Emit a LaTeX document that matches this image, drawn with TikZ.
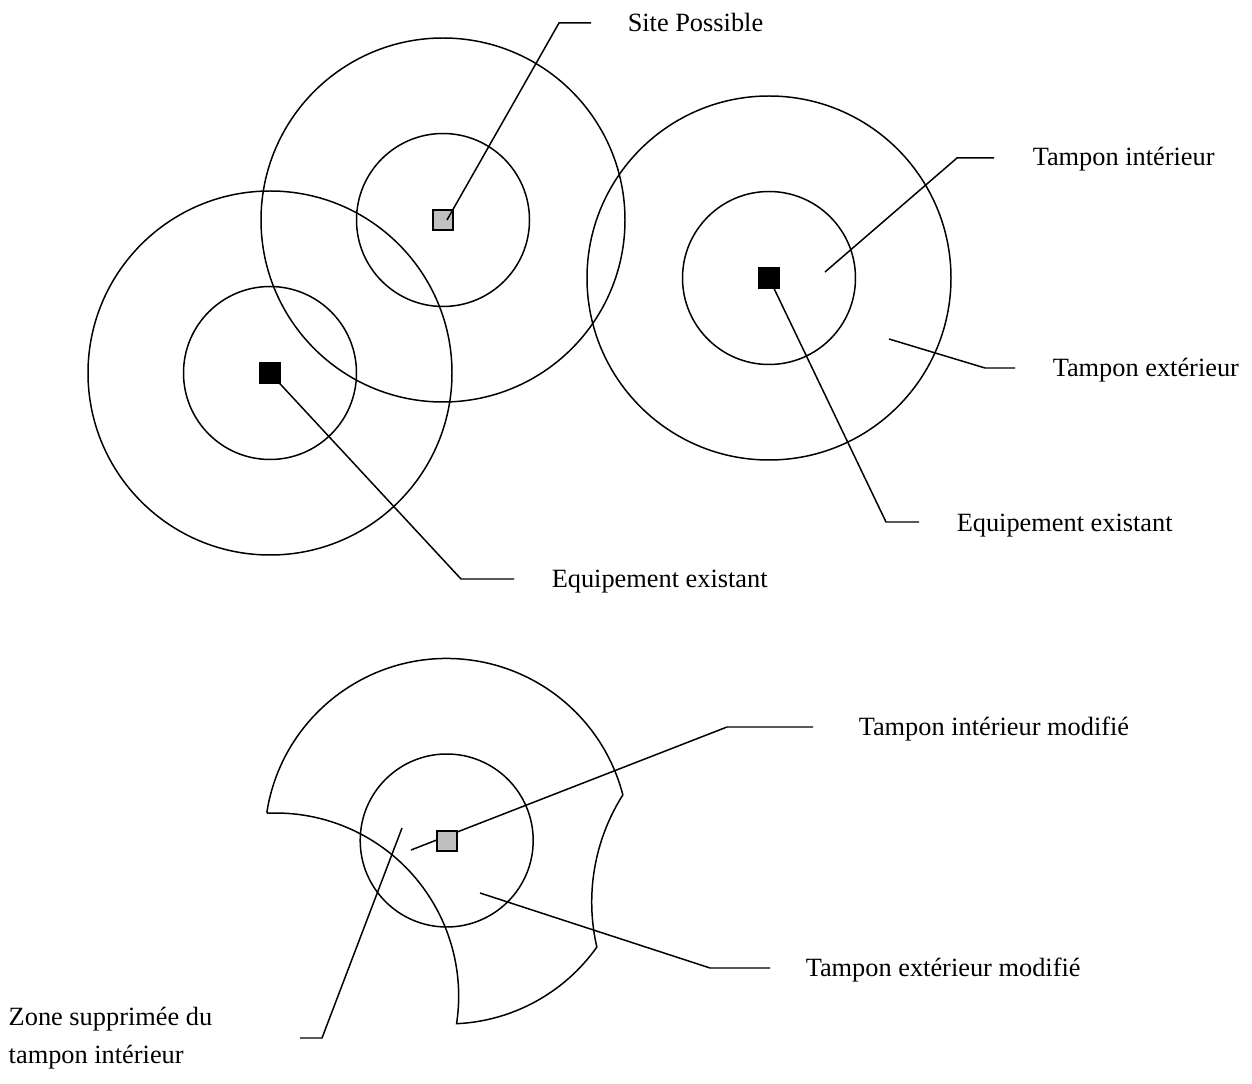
\documentclass[tikz,border=0pt]{standalone}
\usepackage{fontspec}
\setmainfont{Liberation Serif}
\definecolor{sitegray}{RGB}{192,192,192}
\begin{document}
\begin{tikzpicture}[x=0.02cm,y=0.02cm,line width=0.85pt,
  lbl/.style={anchor=base west,inner sep=0pt,font=\fontsize{15}{18}\selectfont},
  equipbox/.style={draw,fill=black,minimum size=0.4cm,inner sep=0pt},
  sitebox/.style={draw,fill=sitegray,minimum size=0.4cm,inner sep=0pt},
  leader/.style={line join=miter}]
\useasboundingbox (0,0) rectangle (1252,-1084);

% ---------- buffers around the three sites ----------
\coordinate (cA) at (270,-373);
\coordinate (cB) at (443,-220);
\coordinate (cC) at (769,-278);
\foreach \c in {cA,cB,cC}{
  \draw (\c) circle[radius=86.5];
  \draw (\c) circle[radius=182];
}

% leader end points
\coordinate (sTi) at (825,-272);
\coordinate (sTe) at (889,-339);

% leaders (upper part)
\draw[leader] (cA) -- (461,-579) coordinate (kA) -- (514,-579) coordinate (eA);
\draw[leader] (cC) -- (886,-522) coordinate (kC) -- (919,-522) coordinate (eC);
\draw[leader] (sTi) -- (957,-158) coordinate (kTi) -- (994,-158) coordinate (eTi);
\draw[leader] (sTe) -- (985,-368) coordinate (kTe) -- (1015,-368) coordinate (eTe);

% site markers
\node[equipbox] (eqA) at (cA) {};
\node[equipbox] (eqC) at (cC) {};
\node[sitebox] (siteB) at (cB) {};
\draw[leader] (447,-220) coordinate (sB) -- (559,-23) coordinate (kB) -- (591,-23) coordinate (eB);

% labels (upper part)
\node[lbl] (tSite) at (627,-32) {Site Possible};
\node[lbl] (tEqA) at (551,-588) {Equipement existant};
\node[lbl] (tEqC) at (956,-532) {Equipement existant};
\node[lbl] (tTi) at (1032,-166) {Tampon intérieur};
\node[lbl] (tTe) at (1052,-377) {Tampon extérieur};

% ---------- modified buffers ----------
\coordinate (cM) at (446.7,-840.5);
\draw (266.9,-812.0) arc[start angle=171,end angle=14.5,radius=182]
      arc[start angle=147.6,end angle=193,radius=200]
      arc[start angle=-35.3,end angle=-87.4,radius=182]
      arc[start angle=-8.7,end angle=92.5,radius=183] -- cycle;
\draw (cM) circle[radius=86.5];

\coordinate (sMi) at (411,-850);
\coordinate (sMe) at (480,-893);
\coordinate (sZ) at (402,-828);
\draw[leader] (sMi) -- (727,-727) coordinate (kMi) -- (813,-727) coordinate (eMi);
\draw[leader] (sMe) -- (710,-968) coordinate (kMe) -- (770,-968) coordinate (eMe);
\draw[leader] (sZ) -- (322,-1038) coordinate (kZ) -- (300,-1038) coordinate (eZ);

\node[sitebox] (siteM) at (447,-841) {};

\node[lbl] (tMi) at (858,-735) {Tampon intérieur modifié};
\node[lbl] (tMe) at (805,-976) {Tampon extérieur modifié};
\node[lbl] (tZ1) at (8,-1025) {Zone supprimée du};
\node[lbl] (tZ2) at (8,-1063) {tampon intérieur};
\end{tikzpicture}
\end{document}
